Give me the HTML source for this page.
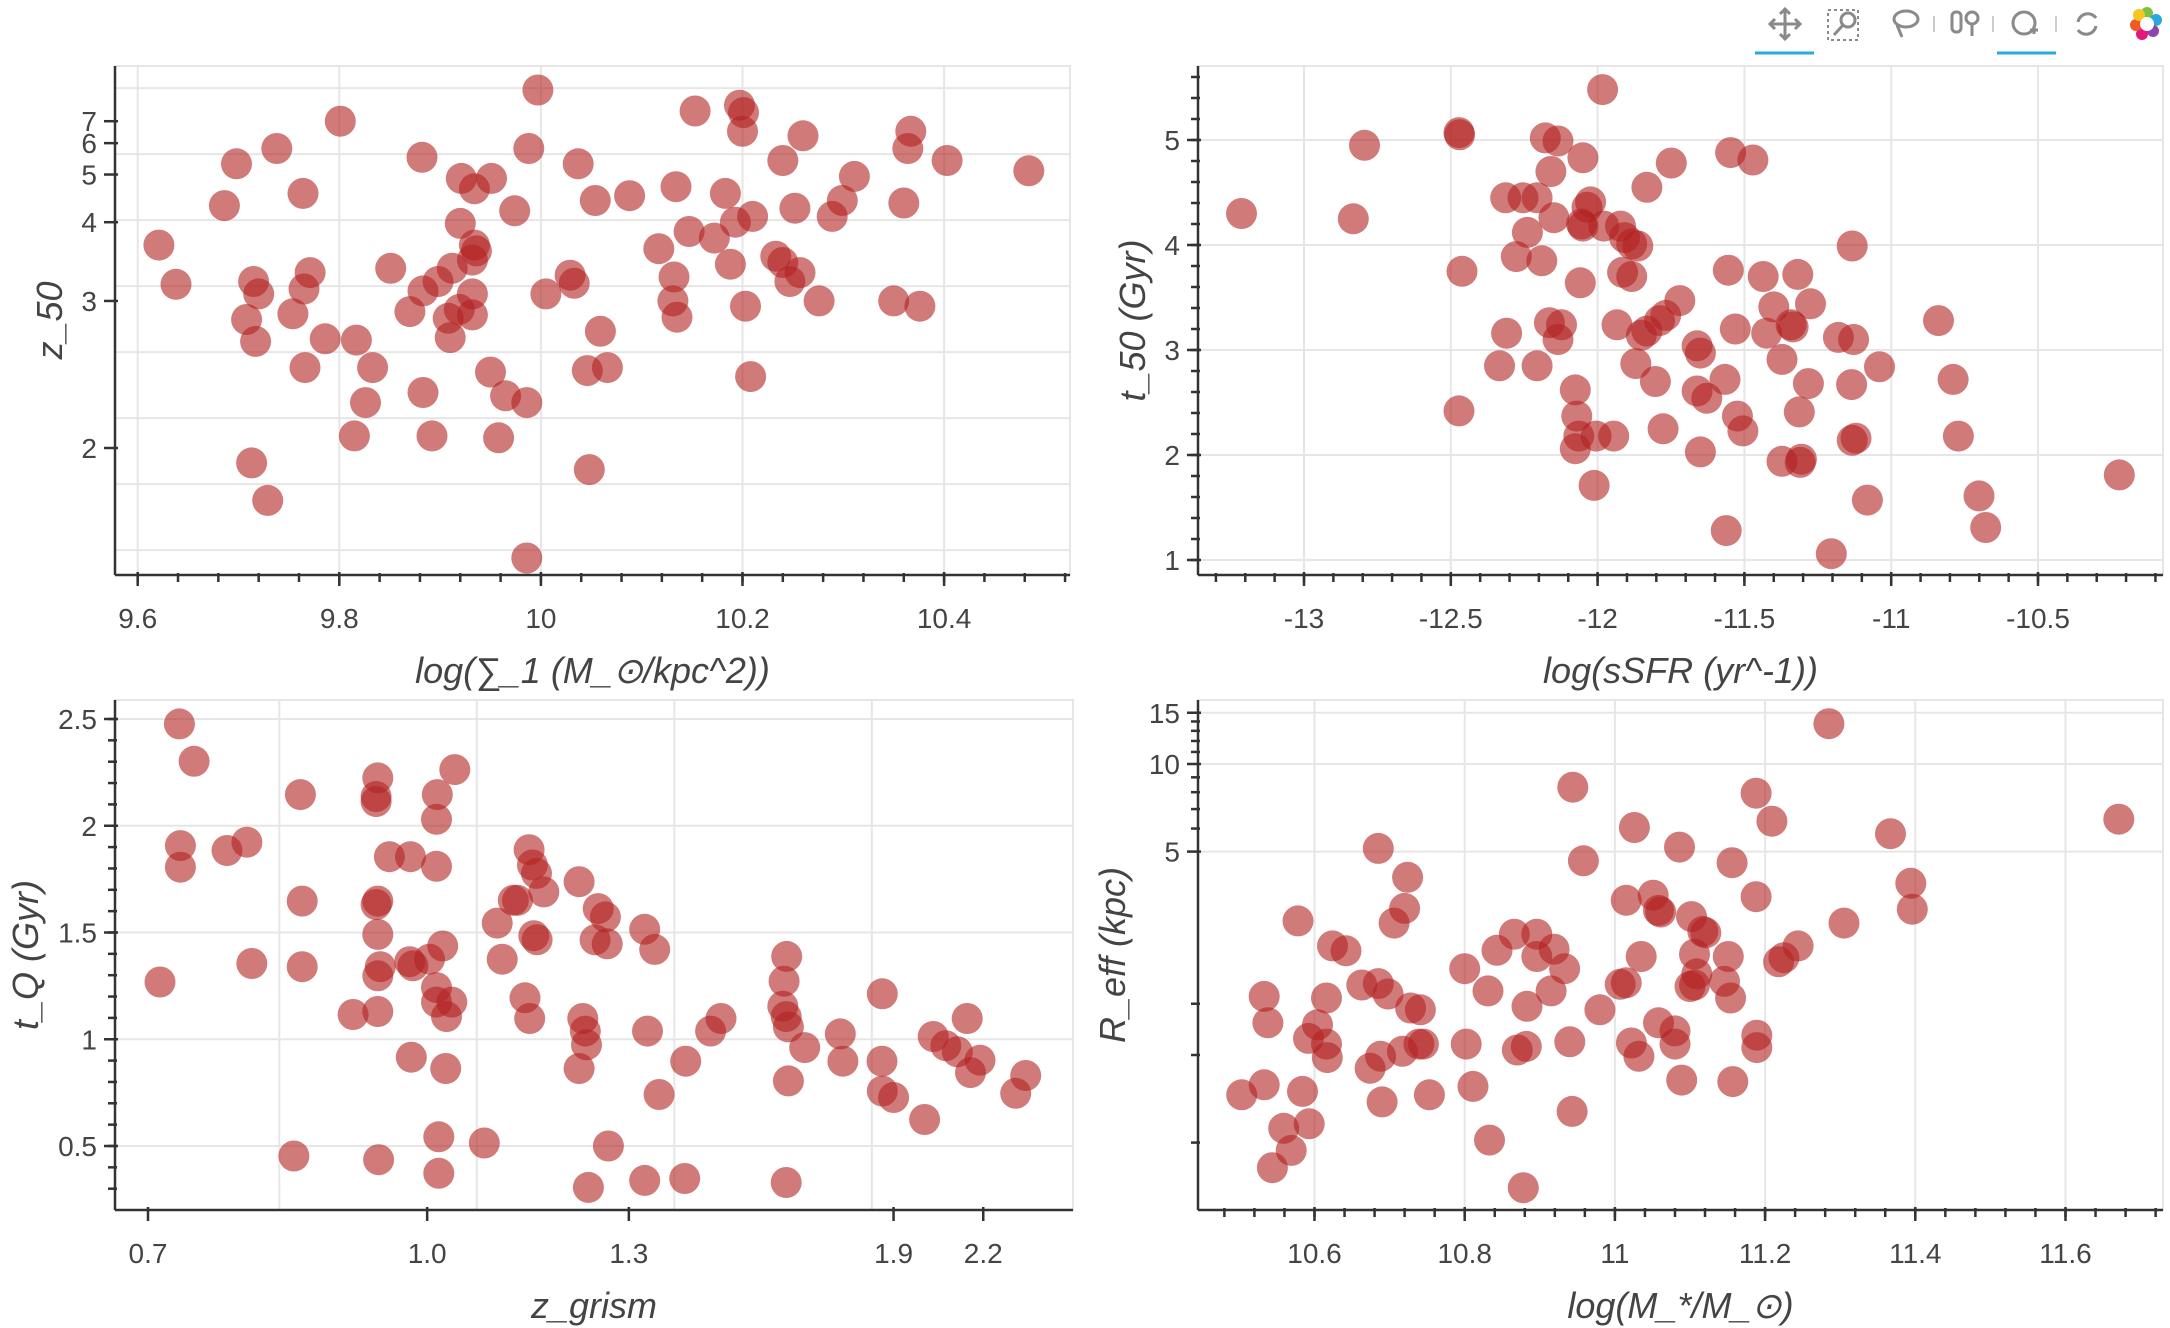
<!DOCTYPE html>
<html><head><meta charset="utf-8"><style>
html,body{margin:0;padding:0;background:#fff;}
svg{display:block;}
text{font-family:"Liberation Sans",sans-serif;fill:#444;}
.tl{font-size:28px;}
.at{font-size:36px;font-style:italic;}
</style></head><body>
<svg id="chart" width="2170" height="1328" viewBox="0 0 2170 1328" xmlns="http://www.w3.org/2000/svg">
<g fill="none" stroke="#8a8a8a" stroke-width="3">
 <g><path d="M1785 10v28M1771 24h28M1780 14l5-5 5 5M1780 34l5 5 5-5M1775 19l-5 5 5 5M1795 19l5 5-5 5"/></g>
 <g><rect x="1828" y="10" width="30" height="30" stroke-dasharray="3 3" stroke-width="2"/><circle cx="1848" cy="20" r="7"/><path d="M1843 25l-9 10"/></g>
 <g><ellipse cx="1906" cy="19" rx="12" ry="8"/><path d="M1897 25l5 12"/></g>
 <g><rect x="1952" y="12" width="9" height="20" rx="4"/><circle cx="1972" cy="18" r="6"/><path d="M1972 24v12"/></g>
 <g><circle cx="2024" cy="23" r="11"/><path d="M2030 30h8M2034 26v8"/></g>
 <g><path d="M2078 22a10 10 0 0 1 18-4M2096 26a10 10 0 0 1-18 4"/></g>
 <path d="M1934 16v16M1993 16v16M2056 16v16" stroke="#ccc" stroke-width="2"/>
 <line x1="1755" y1="53" x2="1814" y2="53" stroke="#27aae1" stroke-width="3"/>
 <line x1="1997" y1="53" x2="2056" y2="53" stroke="#27aae1" stroke-width="3"/>
 <g stroke="none">
  <circle cx="2147" cy="13" r="6" fill="#7cc242"/><circle cx="2156" cy="20" r="6" fill="#29a8e0"/>
  <circle cx="2153" cy="31" r="6" fill="#8e44ad"/><circle cx="2142" cy="34" r="6" fill="#e5177e"/>
  <circle cx="2136" cy="25" r="6" fill="#f15a24"/><circle cx="2139" cy="15" r="6" fill="#f7c520"/>
  <circle cx="2147" cy="24" r="7" fill="#fff"/>
 </g>
</g>
</svg>
<script>
// ---------- data ----------
const p1Sigma = [9.997,10.153,10.197,10.201,10.200,9.801,9.738,9.698,9.882,9.988,10.037,10.260,10.367,10.364,10.403,10.484,10.240,10.311,9.921,9.951,9.934,9.764,9.686,9.974,10.054,10.088,10.134,10.183,10.299,10.360,10.252,10.289,10.210,10.193,9.920,9.621,10.147,10.172,10.117,9.934,9.936,9.932,10.233,10.240,10.257,10.247,10.188,10.132,10.029,10.033,9.851,9.771,9.765,9.715,9.720,9.638,9.912,9.898,9.883,9.932,10.005,10.131,10.276,10.350,10.376,10.203,9.919,9.932,9.870,9.754,9.708,10.135,9.908,9.910,9.786,9.817,9.717,10.059,10.066,10.046,9.766,9.833,9.950,10.208,9.883,9.965,9.986,9.826,9.815,9.892,9.958,9.713,10.048,9.729,9.986];
const p1Z50 = [9.3,7.6,8.0,7.5,6.5,7.0,5.8,5.3,5.5,5.8,5.3,6.3,6.5,5.8,5.4,5.1,5.4,4.95,4.9,4.9,4.65,4.55,4.3,4.2,4.4,4.5,4.7,4.55,4.4,4.35,4.25,4.1,4.1,4.0,3.98,3.65,3.85,3.75,3.6,3.65,3.57,3.45,3.5,3.42,3.3,3.2,3.4,3.25,3.27,3.18,3.35,3.3,3.12,3.2,3.07,3.17,3.35,3.2,3.1,3.07,3.07,3.0,3.0,3.0,2.95,2.95,2.92,2.87,2.9,2.88,2.83,2.85,2.84,2.68,2.67,2.66,2.65,2.73,2.46,2.44,2.46,2.46,2.43,2.4,2.3,2.28,2.24,2.24,2.06,2.06,2.05,1.93,1.9,1.77,1.56];
const p1XTicks = [9.6,9.8,10.0,10.2,10.4];
const p1XTickLabels = ["9.6","9.8","10","10.2","10.4"];
const p1YTicks = [2,3,4,5,6,7];
const p1YGridAges = [0.5,1,1.5,2,2.5,3,3.5,4];

const p2SSFR = [-13.213,-12.794,-12.832,-12.472,-12.47,-12.462,-12.472,-11.983,-12.178,-12.135,-12.05,-12.159,-12.313,-12.254,-12.206,-12.149,-12.239,-12.277,-12.19,-12.024,-12.036,-12.055,-12.05,-11.979,-11.922,-11.908,-11.863,-11.884,-11.832,-11.749,-11.547,-11.471,-12.059,-11.915,-11.884,-11.133,-11.555,-11.436,-11.318,-11.4,-11.275,-11.72,-11.768,-11.789,-11.934,-11.832,-11.851,-11.531,-11.424,-11.341,-11.334,-11.18,-11.128,-10.839,-12.123,-12.164,-12.135,-12.31,-12.334,-12.206,-11.87,-11.661,-11.65,-11.372,-11.04,-11.803,-11.566,-11.282,-11.135,-10.789,-12.076,-12.071,-11.661,-11.628,-11.524,-11.505,-11.313,-11.777,-12.076,-12.064,-12.005,-11.945,-11.65,-11.372,-11.306,-11.31,-11.133,-11.12,-10.771,-12.012,-11.081,-10.701,-10.678,-11.562,-11.204,-10.223];
const p2T50 = [4.30,4.95,4.25,5.07,5.05,3.75,2.42,5.48,5.02,4.99,4.83,4.70,4.45,4.45,4.45,4.26,4.12,3.89,3.85,4.41,4.36,4.20,4.18,4.18,4.18,4.07,3.99,4.01,4.55,4.78,4.88,4.81,3.64,3.74,3.70,3.99,3.76,3.70,3.72,3.41,3.44,3.47,3.33,3.28,3.24,3.18,3.14,3.20,3.16,3.24,3.22,3.12,3.10,3.28,3.24,3.26,3.10,3.16,2.85,2.85,2.87,3.04,2.97,2.91,2.84,2.70,2.72,2.68,2.67,2.72,2.62,2.37,2.61,2.54,2.37,2.23,2.41,2.25,2.06,2.18,2.18,2.18,2.03,1.94,1.96,1.93,2.14,2.16,2.18,1.71,1.57,1.61,1.31,1.28,1.06,1.81];
const p2XTicks = [-13,-12.5,-12,-11.5,-11,-10.5];
const p2XTickLabels = ["-13","-12.5","-12","-11.5","-11","-10.5"];
const p2YTicks = [1,2,3,4,5];

const p3Zgrism = [0.729,0.743,0.730,0.730,0.775,0.795,0.711,0.800,0.851,0.853,0.853,0.844,0.939,0.937,0.937,0.939,0.937,0.939,0.939,0.942,0.939,0.910,0.953,0.979,0.978,0.982,1.003,0.980,0.940,1.013,1.012,1.036,1.012,1.020,1.012,1.012,1.032,1.025,1.024,1.015,1.015,1.076,1.094,1.101,1.117,1.123,1.140,1.145,1.151,1.162,1.147,1.152,1.134,1.141,1.217,1.248,1.260,1.243,1.263,1.223,1.227,1.229,1.217,1.232,1.265,1.328,1.346,1.333,1.354,1.328,1.404,1.402,1.453,1.474,1.618,1.612,1.609,1.617,1.622,1.661,1.622,1.617,1.751,1.758,1.867,1.866,1.867,1.9,1.996,2.024,2.066,2.106,2.141,2.153,2.188,2.328,2.37];
const p3TQ = [2.477,2.302,1.907,1.806,1.884,1.923,1.268,1.355,2.146,1.647,1.340,0.453,2.224,2.137,2.113,1.647,1.631,1.491,1.297,1.340,1.130,1.116,1.855,1.855,1.363,1.344,1.375,0.916,0.436,2.146,2.030,2.263,1.810,1.437,1.242,1.174,1.174,1.106,0.863,0.543,0.372,0.514,1.544,1.375,1.651,1.651,1.888,1.816,1.777,1.690,1.485,1.466,1.194,1.097,1.738,1.612,1.573,1.466,1.447,1.097,1.038,0.974,0.863,0.306,0.500,1.515,1.421,1.038,0.741,0.339,0.897,0.348,1.038,1.097,1.388,1.272,1.155,1.106,1.058,0.961,0.805,0.329,1.025,0.897,1.213,0.897,0.757,0.727,0.624,1.013,0.970,0.941,1.097,0.844,0.902,0.747,0.830];
const p3XTicks = [0.7,1.0,1.3,1.9,2.2];
const p3XTickLabels = ["0.7","1.0","1.3","1.9","2.2"];
const p3XGridAges = [6.5,5.5,4.5,3.5];
const p3YTicks = [0.5,1,1.5,2,2.5];
const p3YTickLabels = ["0.5","1","1.5","2","2.5"];

const p4Mass = [11.285,10.944,11.188,11.209,11.671,11.026,11.367,11.086,10.685,10.958,11.156,10.724,11.394,11.188,11.015,11.051,11.058,11.061,10.720,10.706,10.578,11.396,11.305,11.102,11.117,11.121,10.866,10.896,11.244,10.843,10.919,10.624,10.642,11.035,11.106,11.151,11.225,11.218,10.896,10.933,10.800,11.015,11.007,11.100,11.109,11.106,11.146,11.154,10.915,10.663,10.685,10.698,10.831,10.533,10.616,10.728,10.741,10.883,10.980,11.058,11.080,11.080,11.189,11.189,10.538,10.604,10.592,10.616,10.617,10.688,10.674,10.717,10.739,10.745,10.802,10.870,10.882,10.940,11.022,11.032,11.089,11.157,10.533,10.503,10.584,10.690,10.753,10.811,10.943,10.559,10.593,10.569,10.544,10.833,10.878];
const p4Reff = [13.76,8.32,7.94,6.36,6.46,6.05,5.76,5.18,5.13,4.65,4.58,4.08,3.89,3.50,3.40,3.54,3.14,3.10,3.19,2.84,2.89,3.17,2.84,2.99,2.66,2.63,2.60,2.60,2.37,2.29,2.31,2.37,2.28,2.18,2.22,2.18,2.16,2.09,2.18,1.98,1.98,1.77,1.75,1.72,1.90,1.74,1.79,1.57,1.66,1.74,1.76,1.62,1.66,1.59,1.57,1.45,1.43,1.47,1.43,1.29,1.21,1.09,1.17,1.06,1.29,1.27,1.14,1.09,0.98,0.99,0.90,1.03,1.09,1.09,1.09,1.04,1.07,1.11,1.10,0.99,0.82,0.81,0.79,0.73,0.75,0.69,0.73,0.78,0.64,0.56,0.58,0.47,0.41,0.51,0.35];
const p4XTicks = [10.6,10.8,11.0,11.2,11.4,11.6];
const p4XTickLabels = ["10.6","10.8","11","11.2","11.4","11.6"];
const p4YTicks = [5,10,15];
const p4YMinor = [0.5,1,1.5,6,7,8,9,11,12,13,14];

// ---------- helpers ----------
const NS = "http://www.w3.org/2000/svg";
const svg = document.getElementById("chart");
function mk(tag, attrs, parent){const e=document.createElementNS(NS,tag);for(const k in attrs)e.setAttribute(k,attrs[k]);(parent||svg).appendChild(e);return e;}
// cosmic age in Gyr (flat LCDM, H0=70, Om=0.3)
function age(z){return 11.13*Math.asinh(1.5275*Math.pow(1+z,-1.5));}

function panel(cfg){
  const g = mk("g",{});
  
  
  const L=cfg.L,R=cfg.R,T=cfg.T,B=cfg.B;
  const grid = mk("g",{stroke:"#e6e6e6","stroke-width":2},g);
  
  
  cfg.xGrid.forEach(px=>mk("line",{x1:px,x2:px,y1:T,y2:B},grid));
  cfg.yGrid.forEach(py=>mk("line",{x1:L,x2:R,y1:py,y2:py},grid));
  const frame = mk("rect",{x:L,y:T,width:R-L,height:B-T,fill:"none",stroke:"#e6e6e6","stroke-width":2},g);
  
  
  const pts = mk("g",{fill:"#b22222","fill-opacity":0.6},g);
  
  
  for(let i=0;i<cfg.xs.length;i++){
    const c = mk("circle",{cx:cfg.sx(cfg.xs[i]).toFixed(1),cy:cfg.sy(cfg.ys[i]).toFixed(1),r:15.5},pts);
    
    
  }
  const ax = mk("g",{stroke:"#333","stroke-width":2.5},g);
  
  
  mk("line",{x1:L,x2:R,y1:B,y2:B},ax);
  mk("line",{x1:L,x2:L,y1:T,y2:B},ax);
  cfg.xMinor.forEach(px=>{if(px>=L&&px<=R)mk("line",{x1:px,x2:px,y1:B-2,y2:B+7},ax);});
  cfg.yMinor.forEach(py=>{if(py>=T&&py<=B)mk("line",{x1:L-7,x2:L+2,y1:py,y2:py},ax);});
  cfg.xTicks.forEach((v,i)=>{
    const px=cfg.sx(v);
    mk("line",{x1:px,x2:px,y1:B-3,y2:B+11},ax);
    const t=mk("text",{x:px,y:B+53,"text-anchor":"middle",class:"tl"},g);
    t.textContent=cfg.xLabels[i];
    
    
  });
  cfg.yTicks.forEach((v,i)=>{
    const py=cfg.sy(v);
    mk("line",{x1:L-11,x2:L+3,y1:py,y2:py},ax);
    const t=mk("text",{x:L-18,y:py+10,"text-anchor":"end",class:"tl"},g);
    t.textContent=cfg.yLabels[i];
    
    
  });
  const xt=mk("text",{x:(L+R)/2,y:B+108,"text-anchor":"middle",class:"at"},g);
  xt.textContent=cfg.xTitle;
  
  
  const ty=(T+B)/2;
  const yt=mk("text",{x:cfg.yTitleX,y:ty,"text-anchor":"middle",class:"at",transform:`rotate(-90 ${cfg.yTitleX} ${ty})`},g);
  yt.textContent=cfg.yTitle;
  
  
}
function range(a,b,s){const r=[];for(let v=a;v<=b+1e-9;v+=s)r.push(+v.toFixed(4));return r;}

// Panel 1
{const sx=v=>137.7+(v-9.6)*1008, sy=z=>448+(age(z)-age(2))*132;
 panel({name:"sigma1-vs-z50",L:115,R:1070,T:66,B:575,sx,sy,xs:p1Sigma,ys:p1Z50,
  xGrid:p1XTicks.map(sx),yGrid:p1YGridAges.map(t=>448+(t-age(2))*132),
  xMinor:range(9.56,10.52,0.04).map(sx),yMinor:[],
  xTicks:p1XTicks,xLabels:p1XTickLabels,yTicks:p1YTicks,yLabels:p1YTicks.map(String),
  xTitle:"log(∑_1 (M_⊙/kpc^2))",yTitle:"z_50",yTitleX:62});}
// Panel 2
{const sx=v=>1304+(v+13)*293.6, sy=v=>560-(v-1)*105;
 panel({name:"ssfr-vs-t50",L:1198,R:2163,T:66,B:575,sx,sy,xs:p2SSFR,ys:p2T50,
  xGrid:p2XTicks.map(sx),yGrid:p2YTicks.map(sy),
  xMinor:range(-13.4,-10.0,0.1).map(sx),yMinor:range(0.8,5.6,0.2).map(sy),
  xTicks:p2XTicks,xLabels:p2XTickLabels,yTicks:p2YTicks,yLabels:p2YTicks.map(String),
  xTitle:"log(sSFR (yr^-1))",yTitle:"t_50 (Gyr)",yTitleX:1145});}
// Panel 3
{const sx=z=>148+(age(0.7)-age(z))*197.5, sy=v=>1146-(v-0.5)*213.5;
 panel({name:"zgrism-vs-tq",L:115,R:1073,T:700,B:1210,sx,sy,xs:p3Zgrism,ys:p3TQ,
  xGrid:p3XGridAges.map(t=>148+(age(0.7)-t)*197.5),yGrid:p3YTicks.map(sy),
  xMinor:[],yMinor:range(0.2,2.6,0.1).map(sy),
  xTicks:p3XTicks,xLabels:p3XTickLabels,yTicks:p3YTicks,yLabels:p3YTickLabels,
  xTitle:"z_grism",yTitle:"t_Q (Gyr)",yTitleX:38});}
// Panel 4
{const sx=v=>1314.5+(v-10.6)*751, sy=v=>851.6-Math.log10(v/5)*291;
 panel({name:"mass-vs-reff",L:1198,R:2163,T:700,B:1210,sx,sy,xs:p4Mass,ys:p4Reff,
  xGrid:p4XTicks.map(sx),yGrid:p4YTicks.map(sy),
  xMinor:range(10.44,11.72,0.04).map(sx),yMinor:p4YMinor.map(sy),
  xTicks:p4XTicks,xLabels:p4XTickLabels,yTicks:p4YTicks,yLabels:p4YTicks.map(String),
  xTitle:"log(M_*/M_⊙)",yTitle:"R_eff (kpc)",yTitleX:1125});}
</script>
</body></html>
